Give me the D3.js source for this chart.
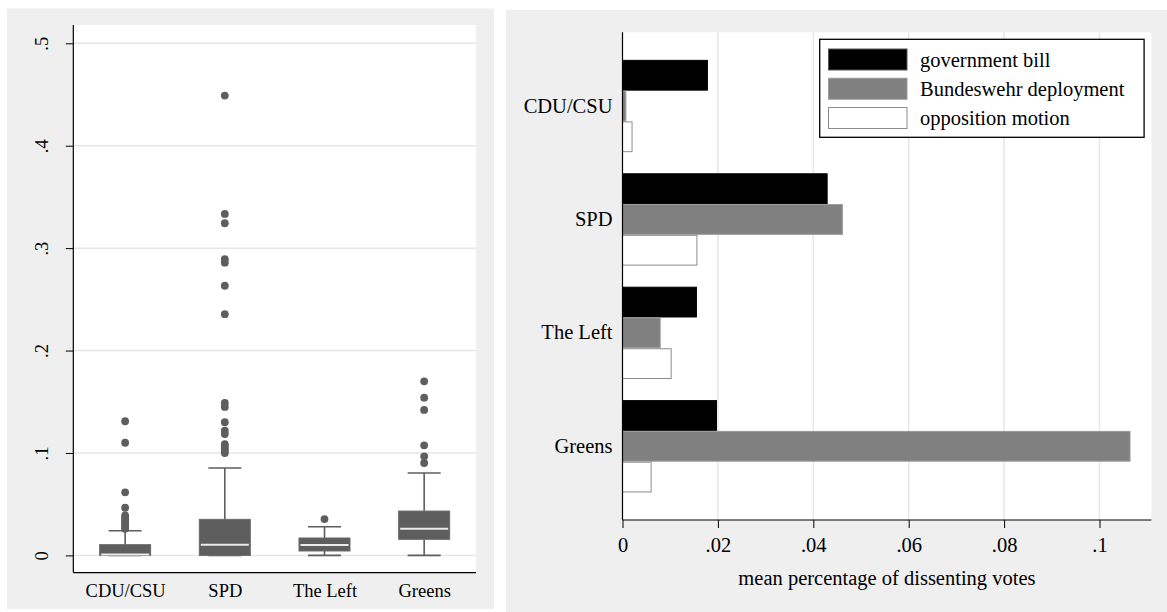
<!DOCTYPE html>
<html>
<head>
<meta charset="utf-8">
<script src="https://cdn.jsdelivr.net/npm/d3@7"></script>
<style>
  html, body { margin: 0; padding: 0; background: #ffffff; }
  svg { display: block; font-family: "Liberation Serif", "Times New Roman", serif; }
</style>
</head>
<body>
<svg id="chart" width="1167" height="612"></svg>
<script>
// ---------------- DATA ----------------
const parties = ["CDU/CSU", "SPD", "The Left", "Greens"];

// box plot (left panel)
const boxLowWhisker = [0, 0, 0, 0];
const boxQ1 = [0, 0, 0.0043, 0.0157];
const boxMedian = [0.001, 0.0105, 0.0101, 0.026];
const boxQ3 = [0.0105, 0.0352, 0.017, 0.0433];
const boxHighWhisker = [0.024, 0.0853, 0.028, 0.0805];
const outliersCDU = [0.131, 0.110, 0.0616, 0.0465, 0.039, 0.037, 0.035, 0.033, 0.031, 0.029, 0.027, 0.026];
const outliersSPD = [0.449, 0.3334, 0.3243, 0.2892, 0.2858, 0.2633, 0.2355, 0.149, 0.145, 0.130, 0.1218, 0.1185, 0.1085, 0.106, 0.104, 0.102, 0.100];
const outliersLeft = [0.0355];
const outliersGreens = [0.170, 0.154, 0.142, 0.1075, 0.0967, 0.0902];
const boxTicks = [0, 0.1, 0.2, 0.3, 0.4, 0.5];
const boxTickLabels = ["0", ".1", ".2", ".3", ".4", ".5"];

// grouped bars (right panel)
const seriesNames = ["government bill", "Bundeswehr deployment", "opposition motion"];
const govBill = [0.0178, 0.0429, 0.0155, 0.0197];
const bundeswehr = [0.0007, 0.0461, 0.0079, 0.1064];
const oppMotion = [0.002, 0.0156, 0.0102, 0.006];
const barTicks = [0, 0.02, 0.04, 0.06, 0.08, 0.1];
const barTickLabels = ["0", ".02", ".04", ".06", ".08", ".1"];
const barAxisTitle = "mean percentage of dissenting votes";

// ---------------- STYLE ----------------
const panelBg = "#efefef";
const gridColor = "#e6e6e6";
const boxColor = "#5e5e5e";
const seriesFill = ["#000000", "#808080", "#ffffff"];
const seriesStroke = ["#000000", "#9a9a9a", "#8c8c8c"];

const svg = d3.select("#chart");

// ================= LEFT PANEL =================
{
  const panel = {x0: 7, y0: 8.5, x1: 494, y1: 609};
  const plot = {x0: 73.3, y0: 25, x1: 476, y1: 572.6};
  svg.append("rect").attr("x", panel.x0).attr("y", panel.y0)
    .attr("width", panel.x1 - panel.x0).attr("height", panel.y1 - panel.y0)
    .attr("fill", panelBg);
  svg.append("rect").attr("x", plot.x0).attr("y", plot.y0)
    .attr("width", plot.x1 - plot.x0).attr("height", plot.y1 - plot.y0)
    .attr("fill", "#ffffff");

  const y = d3.scaleLinear().domain([0, 0.5]).range([555.4, 43.3]);
  const x = d3.scalePoint().domain(parties).range([plot.x0, plot.x1]).padding(0.52);

  // gridlines
  svg.append("g").selectAll("line").data(boxTicks).join("line")
    .attr("x1", plot.x0).attr("x2", plot.x1)
    .attr("y1", d => y(d)).attr("y2", d => y(d))
    .attr("stroke", gridColor).attr("stroke-width", 1.5);

  const boxW = 51, capW = 33;
  const g = svg.append("g");
  const outs = [outliersCDU, outliersSPD, outliersLeft, outliersGreens];
  parties.forEach((p, i) => {
    const cx = x(p);
    g.append("line").attr("x1", cx).attr("x2", cx)
      .attr("y1", y(boxQ3[i])).attr("y2", y(boxHighWhisker[i]))
      .attr("stroke", boxColor).attr("stroke-width", 1.6);
    g.append("line").attr("x1", cx).attr("x2", cx)
      .attr("y1", y(boxQ1[i])).attr("y2", y(boxLowWhisker[i]))
      .attr("stroke", boxColor).attr("stroke-width", 1.6);
    g.append("line").attr("x1", cx - capW / 2).attr("x2", cx + capW / 2)
      .attr("y1", y(boxHighWhisker[i])).attr("y2", y(boxHighWhisker[i]))
      .attr("stroke", boxColor).attr("stroke-width", 1.6);
    g.append("line").attr("x1", cx - capW / 2).attr("x2", cx + capW / 2)
      .attr("y1", y(boxLowWhisker[i])).attr("y2", y(boxLowWhisker[i]))
      .attr("stroke", boxColor).attr("stroke-width", 1.6);
    g.append("rect").attr("x", cx - boxW / 2).attr("width", boxW)
      .attr("y", y(boxQ3[i])).attr("height", y(boxQ1[i]) - y(boxQ3[i]))
      .attr("fill", boxColor).attr("stroke", "#6a6a6a").attr("stroke-width", 1);
    g.append("line").attr("x1", cx - boxW / 2 + 1.5).attr("x2", cx + boxW / 2 - 1.5)
      .attr("y1", y(boxMedian[i])).attr("y2", y(boxMedian[i]))
      .attr("stroke", "#ececec").attr("stroke-width", 2);
    g.append("g").selectAll("circle").data(outs[i]).join("circle")
      .attr("cx", cx).attr("cy", d => y(d)).attr("r", 3.9)
      .attr("fill", boxColor);
  });

  // y axis
  const yAxis = d3.axisLeft(y).tickValues(boxTicks)
    .tickFormat((d, i) => boxTickLabels[i]).tickSize(7.5).tickPadding(0);
  const ya = svg.append("g").attr("transform", `translate(${plot.x0},0)`).call(yAxis);
  ya.select(".domain").remove();
  ya.selectAll(".tick line").attr("stroke", "#000").attr("stroke-width", 1);
  ya.selectAll(".tick text")
    .attr("x", null).attr("dy", null)
    .attr("text-anchor", "middle")
    .attr("transform", `translate(${48 - plot.x0},0) rotate(-90)`)
    .attr("font-size", 18.5).attr("fill", "#000")
    .style("font-family", "'Liberation Serif', serif");
  svg.append("line").attr("x1", plot.x0).attr("x2", plot.x0)
    .attr("y1", plot.y0).attr("y2", plot.y1).attr("stroke", "#000").attr("stroke-width", 1.2);

  // x axis
  const xAxis = d3.axisBottom(x).tickSize(0).tickPadding(0);
  const xa = svg.append("g").attr("transform", `translate(0,${plot.y1})`).call(xAxis);
  xa.select(".domain").remove();
  xa.selectAll(".tick text").attr("y", 24.5).attr("dy", null)
    .attr("font-size", 18.5).attr("fill", "#000")
    .style("font-family", "'Liberation Serif', serif");
  svg.append("line").attr("x1", plot.x0).attr("x2", plot.x1)
    .attr("y1", plot.y1).attr("y2", plot.y1).attr("stroke", "#000").attr("stroke-width", 1.2);
}

// ================= RIGHT PANEL =================
{
  const panel = {x0: 506, y0: 10, x1: 1167, y1: 612};
  const plot = {x0: 622.5, y0: 32.3, x1: 1151.4, y1: 520};
  svg.append("rect").attr("x", panel.x0).attr("y", panel.y0)
    .attr("width", panel.x1 - panel.x0).attr("height", panel.y1 - panel.y0)
    .attr("fill", panelBg);
  svg.append("rect").attr("x", plot.x0).attr("y", plot.y0)
    .attr("width", plot.x1 - plot.x0).attr("height", plot.y1 - plot.y0)
    .attr("fill", "#ffffff");

  const x = d3.scaleLinear().domain([0, 0.1]).range([plot.x0, 1099.5]);
  const y = d3.scaleBand().domain(parties).range([plot.y0, plot.y1])
    .paddingInner(0.186).paddingOuter(0.243);
  const ySub = d3.scaleBand().domain(seriesNames).range([0, y.bandwidth()]);

  svg.append("g").selectAll("line").data(barTicks.filter(d => d > 0)).join("line")
    .attr("x1", d => x(d)).attr("x2", d => x(d))
    .attr("y1", plot.y0).attr("y2", plot.y1)
    .attr("stroke", gridColor).attr("stroke-width", 1.5);

  const seriesVals = [govBill, bundeswehr, oppMotion];
  const bars = svg.append("g");
  seriesNames.forEach((s, si) => {
    bars.append("g").selectAll("rect").data(parties).join("rect")
      .attr("x", x(0))
      .attr("y", p => y(p) + ySub(s) + 0.5)
      .attr("width", (p, i) => x(seriesVals[si][i]) - x(0))
      .attr("height", ySub.bandwidth() - 1)
      .attr("fill", seriesFill[si])
      .attr("stroke", seriesStroke[si]).attr("stroke-width", 1);
  });

  const yAxis = d3.axisLeft(y).tickSize(0).tickPadding(10);
  const ya = svg.append("g").attr("transform", `translate(${plot.x0},0)`).call(yAxis);
  ya.select(".domain").remove();
  ya.selectAll(".tick text").attr("font-size", 20.5).attr("fill", "#000")
    .style("font-family", "'Liberation Serif', serif");
  svg.append("line").attr("x1", plot.x0).attr("x2", plot.x0)
    .attr("y1", plot.y0).attr("y2", plot.y1).attr("stroke", "#000").attr("stroke-width", 1.2);

  const xAxis = d3.axisBottom(x).tickValues(barTicks)
    .tickFormat((d, i) => barTickLabels[i]).tickSize(8).tickPadding(0);
  const xa = svg.append("g").attr("transform", `translate(0,${plot.y1})`).call(xAxis);
  xa.select(".domain").remove();
  xa.selectAll(".tick line").attr("stroke", "#000").attr("stroke-width", 1);
  xa.selectAll(".tick text").attr("y", 32).attr("dy", null)
    .attr("font-size", 20.5).attr("fill", "#000")
    .style("font-family", "'Liberation Serif', serif");
  svg.append("line").attr("x1", plot.x0).attr("x2", plot.x1)
    .attr("y1", plot.y1).attr("y2", plot.y1).attr("stroke", "#000").attr("stroke-width", 1.2);

  svg.append("text").attr("x", (plot.x0 + plot.x1) / 2).attr("y", 584.5)
    .attr("text-anchor", "middle").attr("font-size", 20.5).attr("fill", "#000")
    .text(barAxisTitle);

  const lg = svg.append("g");
  lg.append("rect").attr("x", 819.7).attr("y", 39.3).attr("width", 324.4).attr("height", 98)
    .attr("fill", "#ffffff").attr("stroke", "#000").attr("stroke-width", 1.3);
  const rowY = d3.scalePoint().domain(seriesNames).range([59.5, 118]);
  seriesNames.forEach((s, si) => {
    lg.append("rect").attr("x", 828.5).attr("y", rowY(s) - 10.5)
      .attr("width", 78.5).attr("height", 21)
      .attr("fill", seriesFill[si])
      .attr("stroke", si === 0 ? "#555" : seriesStroke[si]).attr("stroke-width", 1);
    lg.append("text").attr("x", 920).attr("y", rowY(s) + 7)
      .attr("font-size", 20.5).attr("fill", "#000").text(s);
  });
}
</script>
</body>
</html>
